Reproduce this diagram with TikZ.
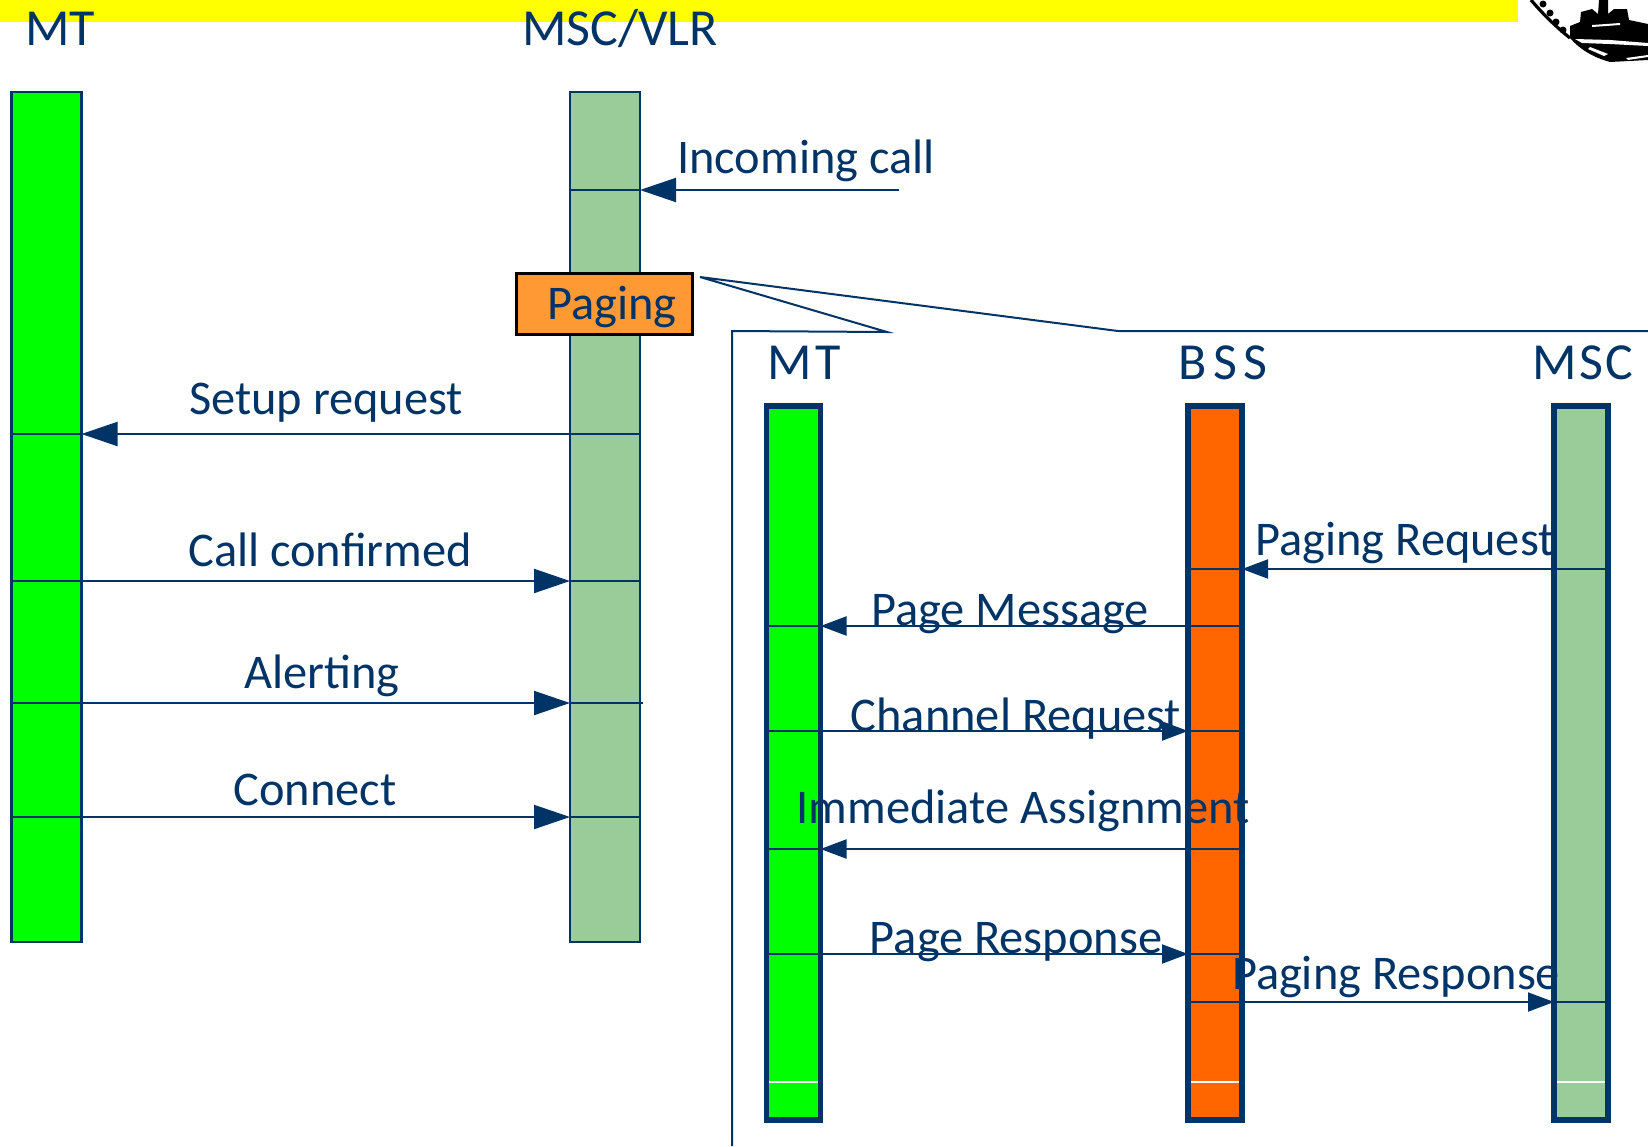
\documentclass[tikz,border=0pt]{standalone}
\usepackage{fontspec}
\setmainfont{Carlito}
\usetikzlibrary{arrows.meta}
\definecolor{navy}{HTML}{003366}
\definecolor{sage}{HTML}{99CC99}
\definecolor{lime}{HTML}{00FF00}
\definecolor{bssor}{HTML}{FF6600}
\definecolor{pageor}{HTML}{FF9933}
\definecolor{banner}{HTML}{FFFF00}
\tikzset{
  lab/.style={text=navy,inner sep=0pt,font=\fontsize{24.2}{27}\selectfont},
  head/.style={text=navy,inner sep=0pt,font=\fontsize{26}{29}\selectfont},
  bigbar/.style={draw=navy,line width=1.2pt,minimum width=35pt,minimum height=425pt,inner sep=0pt,outer sep=0pt},
  smallbar/.style={draw=navy,line width=2.8pt,minimum width=27pt,minimum height=357pt,inner sep=0pt,outer sep=0pt},
  tick/.style={draw=navy,line width=1pt},
  bigmsg/.style={draw=navy,line width=1pt,-{Triangle[length=18pt,width=12pt]}},
  smallmsg/.style={draw=navy,line width=1pt,-{Triangle[length=13pt,width=9.5pt]}},
  glint/.style={draw=white,line width=.6pt}
}
\begin{document}
\begin{tikzpicture}[x=.5pt,y=-.5pt]
\useasboundingbox (0,0) rectangle (1648,1146);
\fill[banner] (0,0) rectangle (1518,22);
% logo
\draw[black,line width=1.6pt] (1531,0) .. controls (1542,13) and (1555,26) .. (1570,38);
\foreach \p in {(1543,4),(1550,13),(1556,22),(1563,30)} \fill[black] \p circle (3.5);
\fill[black] (1570,38) -- (1570,26) -- (1580,22) -- (1581,12) -- (1592,9) -- (1598,14) -- (1599,0) -- (1608,0) -- (1608,14) -- (1614,9) -- (1627,9) -- (1629,20) -- (1648,24) -- (1648,60)
  -- (1610,62) .. controls (1595,58) and (1580,50) .. (1570,38) -- cycle;
\fill[white] (1575,39) -- (1610,40) -- (1648,43) -- (1648,46) -- (1610,44) -- (1582,43) -- cycle;
\fill[white] (1590,47) -- (1608,54) -- (1604,56) -- (1588,49) -- cycle;
\fill[white] (1626,58) -- (1648,55) -- (1648,57) -- (1628,60) -- cycle;
\fill[white] (1592,25) -- (1620,23) -- (1620,25) -- (1592,27) -- cycle;

% left bars
\node[bigbar,fill=lime] (mtL) at (46.5,517) {};
\node[bigbar,fill=sage] (mscL) at (605,517) {};
\node[head] (mtLt) at (60,29) {MT};
\node[head] (mscLt) at (620,29) {MSC/VLR};

% callout
\coordinate (tip) at (700,277);
\coordinate (frameA) at (887,332);
\coordinate (frameB) at (1118,331);
\coordinate (frameR) at (1648,331);
\coordinate (frameBL) at (732,1146);
\coordinate (frameTL) at (732,331);
\draw[navy,line width=1pt,line join=miter] (frameBL) -- (frameTL) -- (frameA) -- (tip) -- (frameB) -- (frameR);

% paging box
\node[draw=black,fill=pageor,line width=1.5pt,minimum width=88pt,minimum height=30.5pt,inner sep=0pt] (paging) at (604.5,304) {};
\node[lab] (pagingt) at (612,307) {Paging};

% incoming
\coordinate (inc) at (899,190);
\draw[tick] (mscL.west |- inc) -- (mscL.east |- inc);
\draw[bigmsg] (inc) -- (mscL.east |- inc);
\node[lab] at (806,161) {Incoming call};

% left messages
\coordinate (r1) at (0,434);
\coordinate (r2) at (0,581);
\coordinate (r3) at (0,703);
\coordinate (r4) at (0,817);
\draw[tick] (mtL.west |- r1) -- (mtL.east |- r1);
\draw[bigmsg] (mscL.east |- r1) -- (mtL.east |- r1);
\draw[tick] (mtL.west |- r2) -- (mtL.east |- r2);
\draw[bigmsg] (mtL.east |- r2) -- (mscL.west |- r2);
\draw[tick] (mscL.west |- r2) -- (mscL.east |- r2);
\draw[tick] (mtL.west |- r3) -- (mtL.east |- r3);
\draw[bigmsg] (mtL.east |- r3) -- (mscL.west |- r3);
\draw[tick] (mscL.west |- r3) -- ([xshift=1.5pt]mscL.east |- r3);
\draw[tick] (mtL.west |- r4) -- (mtL.east |- r4);
\draw[bigmsg] (mtL.east |- r4) -- (mscL.west |- r4);
\draw[tick] (mscL.west |- r4) -- (mscL.east |- r4);
\node[lab] at (326,403) {Setup request};
\node[lab] at (330,550) {Call confirmed};
\node[lab] at (322,676) {Alerting};
\node[lab] at (315,790) {Connect};

% inner bars
\node[smallbar,fill=lime] (mtR) at (793.5,763) {};
\node[smallbar,fill=bssor] (bss) at (1215,763) {};
\node[smallbar,fill=sage] (msc) at (1581,763) {};
\node[head] at (804,363) {\addfontfeature{LetterSpace=8}MT};
\node[head] at (1223,363) {\addfontfeature{LetterSpace=12}BSS};
\node[head] at (1583,363) {\addfontfeature{LetterSpace=5}MSC};
\coordinate (w) at (0,1082);
\draw[glint] ([xshift=1.4pt]mtR.west |- w) -- ([xshift=-1.4pt]mtR.east |- w);
\draw[glint] ([xshift=1.4pt]bss.west |- w) -- ([xshift=-1.4pt]bss.east |- w);
\draw[glint] ([xshift=1.4pt]msc.west |- w) -- ([xshift=-1.4pt]msc.east |- w);

% inner messages
\coordinate (s1) at (0,569);
\coordinate (s2) at (0,626);
\coordinate (s3) at (0,731);
\coordinate (s4) at (0,849);
\coordinate (s5) at (0,954);
\coordinate (s6) at (0,1002);
\draw[tick] (msc.west |- s1) -- (msc.east |- s1);
\draw[smallmsg] (msc.west |- s1) -- (bss.east |- s1);
\draw[tick] (bss.west |- s1) -- (bss.east |- s1);
\draw[tick] (bss.east |- s2) -- (bss.west |- s2);
\draw[smallmsg] (bss.west |- s2) -- (mtR.east |- s2);
\draw[tick] (mtR.west |- s2) -- (mtR.east |- s2);
\draw[tick] (mtR.west |- s3) -- (mtR.east |- s3);
\draw[smallmsg] (mtR.east |- s3) -- (bss.west |- s3);
\draw[tick] (bss.west |- s3) -- (bss.east |- s3);
\draw[tick] (bss.west |- s4) -- (bss.east |- s4);
\draw[smallmsg] (bss.west |- s4) -- (mtR.east |- s4);
\draw[tick] (mtR.west |- s4) -- (mtR.east |- s4);
\draw[tick] (mtR.west |- s5) -- (mtR.east |- s5);
\draw[smallmsg] (mtR.east |- s5) -- (bss.west |- s5);
\draw[tick] (bss.west |- s5) -- (bss.east |- s5);
\draw[tick] (bss.west |- s6) -- (bss.east |- s6);
\draw[smallmsg] (bss.east |- s6) -- (msc.west |- s6);
\draw[tick] (msc.west |- s6) -- (msc.east |- s6);
\node[lab] at (1405,543) {Paging Request};
\node[lab] at (1010,614) {Page Message};
\node[lab] at (1016,719) {Channel Request};
\node[lab] at (1023,811) {Immediate Assignment};
\node[lab] at (1016,942) {Page Response};
\node[lab] at (1396,977) {Paging Response};
\end{tikzpicture}
\end{document}
